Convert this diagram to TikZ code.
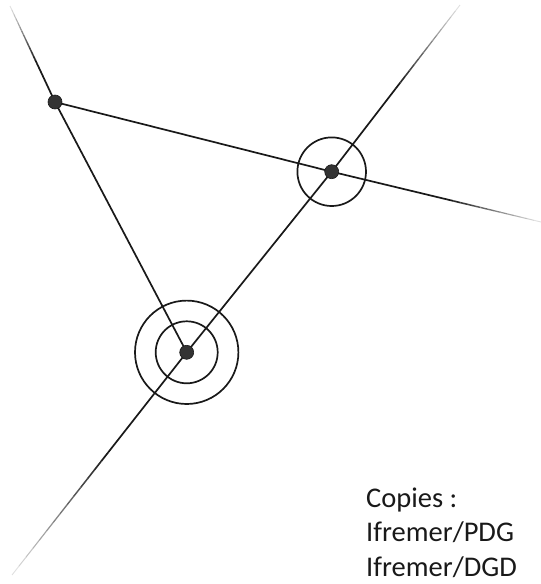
\documentclass[tikz,border=0pt]{standalone}
\usepackage{fontspec}
\setmainfont{Carlito}
\usetikzlibrary{calc}
\tikzset{
  line/.style={line width=1.7pt, black!90},
  ring/.style={circle, draw=black!90, line width=1.7pt, inner sep=0pt, fill=none},
  dot/.style={circle, fill=black!80, draw=black!90, line width=0.6pt, inner sep=0pt, minimum size=14pt},
  copytext/.style={anchor=base west, inner sep=0pt, align=left, font=\fontsize{28.5pt}{34.5pt}\selectfont, text=black!90}
}
\newcommand{\fadeline}[3]{%
  \draw[line] (#1) -- ($(#1)!#3!(#2)$);
  \foreach \i in {0,...,13}{%
    \pgfmathsetmacro\ta{#3+(1-#3)*\i/14}%
    \pgfmathsetmacro\tb{#3+(1-#3)*(\i+1)/14}%
    \pgfmathtruncatemacro\cc{90-\i*6}%
    \pgfmathsetmacro\lw{1.7-\i*0.06}%
    \draw[line width=\lw pt, black!\cc] ($(#1)!\ta!(#2)$) -- ($(#1)!\tb!(#2)$);
  }%
}
\begin{document}
\begin{tikzpicture}[x=1pt, y=-1pt]
\useasboundingbox (0,0) rectangle (541,584);
% points
\coordinate (A) at (55,102);
\coordinate (B) at (331.7,171.7);
\coordinate (C) at (186.7,352.3);
% free ends
\coordinate (eA) at (10,6);
\coordinate (eBup) at (460,5);
\coordinate (eBright) at (541,222);
\coordinate (eC) at (12,575);
% lines
\draw[line] (A) -- (B);
\draw[line] (A) -- (C);
\draw[line] (C) -- (B);
\fadeline{A}{eA}{0.4}
\fadeline{B}{eBup}{0.5}
\fadeline{B}{eBright}{0.55}
\fadeline{C}{eC}{0.45}
% rings
\node[ring, minimum size=68.6pt] (ringB) at (B) {};
\node[ring, minimum size=103.4pt] (ringCout) at (C) {};
\node[ring, minimum size=62pt] (ringCin) at (C) {};
% dots
\node[dot] (dA) at (A) {};
\node[dot] (dB) at (B) {};
\node[dot] (dC) at (C) {};
% text
\node[copytext] (copies) at (366,576) {Copies :\\Ifremer/PDG\\Ifremer/DGD};
\end{tikzpicture}
\end{document}
